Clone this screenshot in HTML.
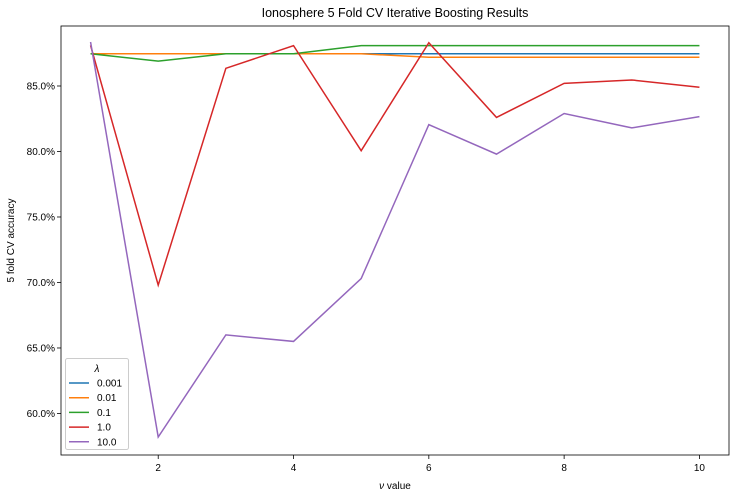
<!DOCTYPE html>
<html><head><meta charset="utf-8"><style>
body{margin:0;background:#fff;width:736px;height:498px;overflow:hidden}
text{font-family:"Liberation Sans","DejaVu Sans",sans-serif}
</style></head><body>
<svg id="chart" width="736" height="498" xmlns="http://www.w3.org/2000/svg"></svg>
<script>
const categories=[1,2,3,4,5,6,7,8,9,10];
const seriesNames=["0.001","0.01","0.1","1.0","10.0"];
const s0001=[87.46,87.46,87.46,87.46,87.46,87.46,87.46,87.46,87.46,87.46];
const s001=[87.46,87.46,87.46,87.46,87.46,87.19,87.19,87.19,87.19,87.19];
const s01=[87.46,86.9,87.46,87.46,88.08,88.08,88.08,88.08,88.08,88.08];
const s1=[88.1,69.8,86.35,88.08,80.06,88.3,82.6,85.2,85.46,84.9];
const s10=[88.36,58.2,66.0,65.5,70.3,82.05,79.8,82.9,81.8,82.66];
const xTicks=[2,4,6,8,10];
const yTicks=[60,65,70,75,80,85];
const colors=["#1f77b4","#ff7f0e","#2ca02c","#d62728","#9467bd"];
const allSeries=[s0001,s001,s01,s1,s10];
const L=61,R=729,T=26,B=455,xmin=0.563,xmax=10.437,ymin=56.83,ymax=89.58;
const X=v=>L+(v-xmin)/(xmax-xmin)*(R-L);
const Y=v=>B-(v-ymin)/(ymax-ymin)*(B-T);
const svg=document.getElementById('chart');
const NS="http://www.w3.org/2000/svg";
function mk(tag,attrs,parent){const e=document.createElementNS(NS,tag);for(const k in attrs)e.setAttribute(k,attrs[k]);(parent||svg).appendChild(e);return e;}
let t=mk('text',{x:(L+R)/2,y:17,'text-anchor':'middle','font-size':12.5,fill:'#000'});t.textContent="Ionosphere 5 Fold CV Iterative Boosting Results";


xTicks.forEach(v=>{const x=X(v);
 let l=mk('line',{x1:x,x2:x,y1:B,y2:B+4,stroke:'#000','stroke-width':0.8});
 
 
 let tt=mk('text',{x:x,y:B+16,'text-anchor':'middle','font-size':10});tt.textContent=v;
 
 });
yTicks.forEach(v=>{const y=Y(v);
 let l=mk('line',{x1:L-4,x2:L,y1:y,y2:y,stroke:'#000','stroke-width':0.8});
 
 
 let tt=mk('text',{x:L-6,y:y+3.5,'text-anchor':'end','font-size':10});tt.textContent=v.toFixed(1)+'%';
 
 });
allSeries.forEach((s,i)=>{
 let p=mk('polyline',{points:s.map((v,j)=>X(categories[j])+','+Y(v)).join(' '),fill:'none',stroke:colors[i],'stroke-width':1.5});
 
 });
let fr=mk('rect',{x:L,y:T,width:R-L,height:B-T,fill:'none',stroke:'#000','stroke-width':0.8});


let xl=mk('text',{x:(L+R)/2,y:489,'text-anchor':'middle','font-size':10});xl.innerHTML='<tspan font-style="italic">ν</tspan> value';


let yl=mk('text',{x:14,y:(T+B)/2,'text-anchor':'middle','font-size':10,transform:`rotate(-90 14 ${(T+B)/2})`});yl.textContent="5 fold CV accuracy";


const lg=mk('g',{});


mk('rect',{x:65.5,y:358.5,width:63,height:91,rx:2,fill:'#fff',stroke:'#ccc','fill-opacity':0.8},lg);
let lt=mk('text',{x:97,y:372,'text-anchor':'middle','font-size':10,'font-style':'italic'},lg);lt.textContent='λ';
seriesNames.forEach((n,i)=>{const y=383+i*14.7;
 let ln=mk('line',{x1:69,x2:89,y1:y,y2:y,stroke:colors[i],'stroke-width':1.5},lg);
 
 
 let tx=mk('text',{x:97,y:y+3.5,'font-size':10},lg);tx.textContent=n;
 
 });
</script>
</body></html>
